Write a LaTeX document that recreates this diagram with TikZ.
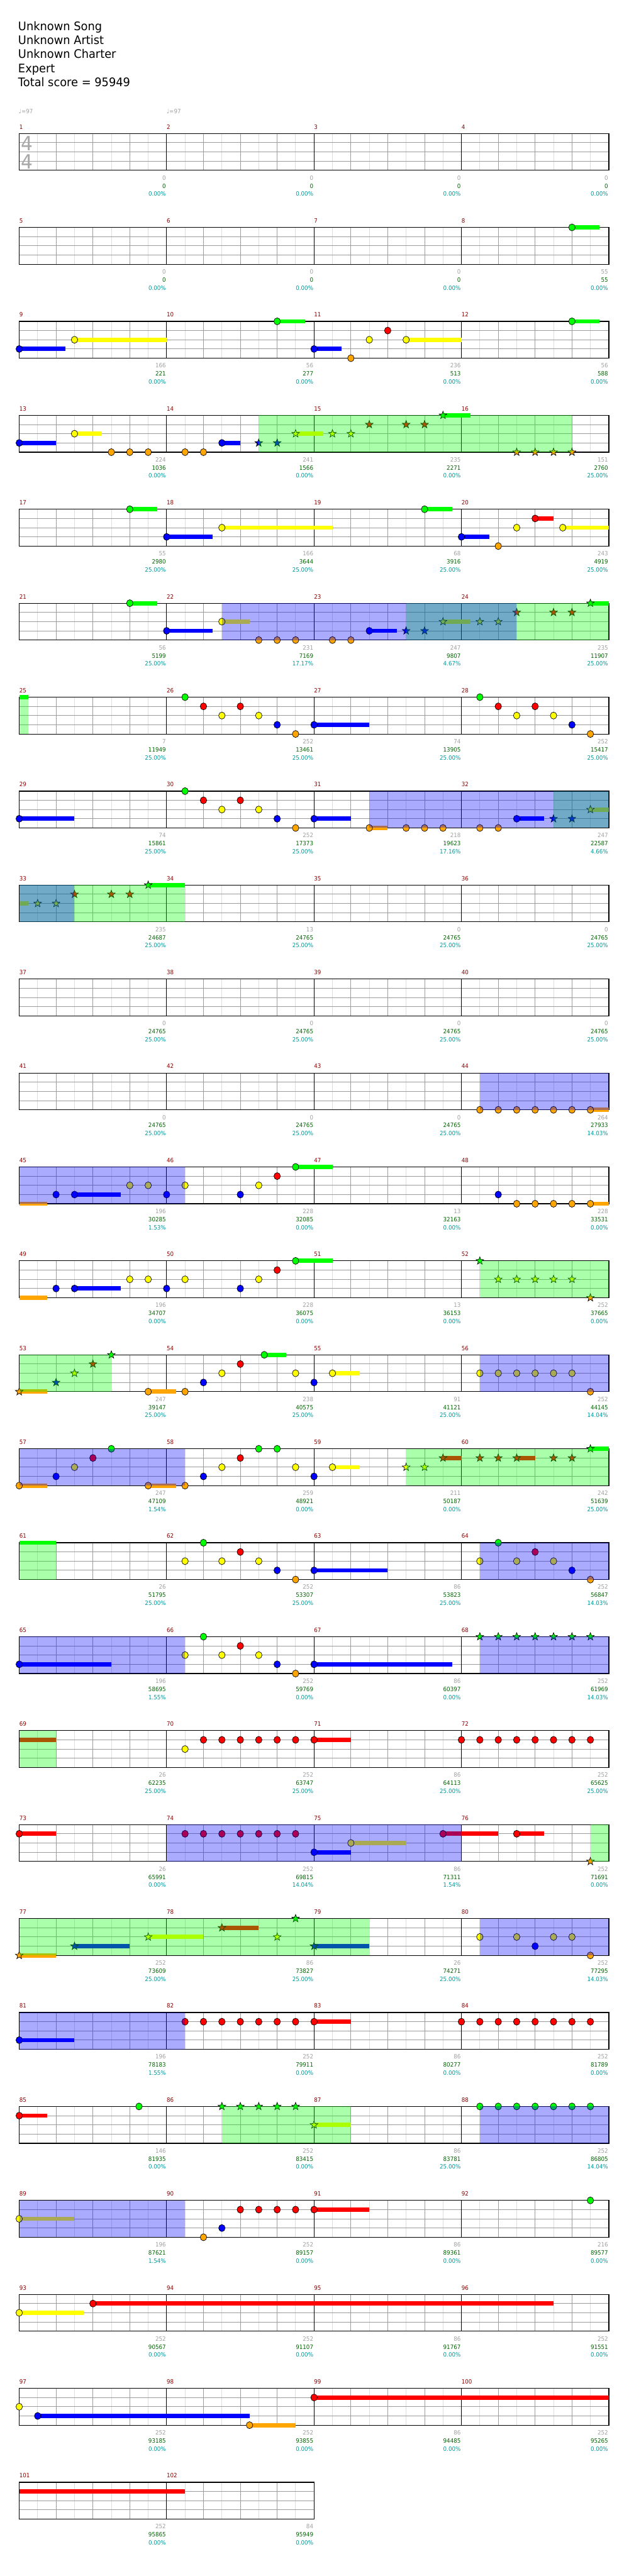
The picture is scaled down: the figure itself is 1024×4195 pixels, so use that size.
\documentclass[tikz,border=0pt]{standalone}
\usepackage{fontspec}
\setmainfont{DejaVu Sans}
\newfontfamily\cfam{DejaVu Sans}[FakeStretch=0.93]
\newfontfamily\hfam{DejaVu Sans}[FakeStretch=0.95]
\newcommand\smtxt{\cfam\fontsize{9.6}{11}\selectfont}
\newcommand\hdrtxt{\hfam\fontsize{19.2}{23}\selectfont}
\newcommand\tstxt{\hfam\fontsize{32}{34}\selectfont}
\definecolor{cG}{HTML}{00FF00}
\definecolor{cR}{HTML}{FF0000}
\definecolor{cY}{HTML}{FFFF00}
\definecolor{cB}{HTML}{0000FF}
\definecolor{cO}{HTML}{FFA500}
\definecolor{lnmid}{HTML}{9C9C9C}
\definecolor{lnlight}{HTML}{DCDCDC}
\definecolor{mnum}{HTML}{8B0000}
\definecolor{sgray}{HTML}{A0A0A0}
\definecolor{sgreen}{HTML}{006400}
\definecolor{steal}{HTML}{009A9A}
\definecolor{tsgray}{HTML}{A8A8A8}
\tikzset{
 lightln/.style={draw=lnlight,line width=1pt},
 midln/.style={draw=lnmid,line width=1pt},
 barln/.style={draw=black,line width=1pt},
 staffframe/.style={draw=black,line width=1.2pt},
 notehead/.style={draw=black,line width=0.7pt},
 mnumtxt/.style={anchor=base west,inner sep=0pt,text=mnum,font=\smtxt},
 stattxt/.style={anchor=base east,inner sep=0pt,font=\smtxt,xshift=-1pt},
 hdr/.style={anchor=base west,inner sep=0pt,font=\hdrtxt},
}
\def\laneG{0}\def\laneR{15}\def\laneY{30}\def\laneB{45}\def\laneO{60}
% note head
\newcommand\nh[2]{\filldraw[notehead,fill=c#1] (#2,\csname lane#1\endcsname) ellipse [x radius=5.3pt,y radius=5.7pt];}
% star note
\newcommand\ns[2]{\filldraw[notehead,fill=c#1,shift={(#2,\csname lane#1\endcsname)}] (90:6.6pt) -- (126:2.7pt) -- (162:6.6pt) -- (198:2.7pt) -- (234:6.6pt) -- (270:2.7pt) -- (306:6.6pt) -- (342:2.7pt) -- (18:6.6pt) -- (54:2.7pt) -- cycle;}
% sustain tail
\newcommand\nt[3]{\fill[c#1] (#2,\csname lane#1\endcsname-3.5) rectangle (#3,\csname lane#1\endcsname+3.5);}
% overlay (star power green / blue)
\newcommand\ovr[3]{\fill[c#1,opacity=0.3333] (#2,0) rectangle (#3,60);}
% measure stats
\newcommand\msr[4]{%
 \node[stattxt,text=sgray] at (4*#1+4,75.7) {#2};
 \node[stattxt,text=sgreen] at (4*#1+4,89) {#3};
 \node[stattxt,text=steal] at (4*#1+4,102) {#4\%};}
% a chart row: #1 row index, #2 number of measures, #3 first measure, #4 content
\newcommand\crow[4]{%
 \begin{scope}[shift={(31.3,217.3+153*#1)},x=60pt]
  \pgfmathtruncatemacro\NB{4*#2}
  \pgfmathtruncatemacro\NM{#2-1}
  \foreach \i in {1,...,\NB} {\draw[lightln] (\i-0.5,0) -- (\i-0.5,60);}
  \foreach \yy in {15,30,45} {\draw[midln] (0,\yy) -- (\NB,\yy);}
  \foreach \i in {1,...,\NB} {\pgfmathtruncatemacro\md{mod(\i,4)}%
    \ifnum\md=0 \draw[barln] (\i,0) -- (\i,60);\else\draw[midln] (\i,0) -- (\i,60);\fi}
  \draw[staffframe] (0,0) rectangle (\NB,60);
  \foreach \c [evaluate=\c as \m using int(#3+\c)] in {0,...,\NM} {\node[mnumtxt] at (4*\c,-7.3) {\m};}
  #4
 \end{scope}}

\begin{document}
\begin{tikzpicture}[x=1pt,y=-1pt]
\useasboundingbox (0,0) rectangle (1024,4195);
\fill[white] (0,0) rectangle (1024,4195);
\node[hdr] (title) at (29.5,49.3) {Unknown Song};
\node[hdr] (artist) at (29.5,71.7) {Unknown Artist};
\node[hdr] (charter) at (29.5,95) {Unknown Charter};
\node[hdr] (diff) at (29.5,118.3) {Expert};
\node[hdr] (score) at (29.5,140.7) {Total score = 95949};
\node[anchor=base west,inner sep=0pt,text=sgray,font=\smtxt] (tempoA) at (30.5,184.5) {♩=97};
\node[anchor=base west,inner sep=0pt,text=sgray,font=\smtxt] (tempoB) at (271.3,184.5) {♩=97};

\crow{0}{4}{1}{\msr{0}{0}{0}{0.00}\msr{1}{0}{0}{0.00}\msr{2}{0}{0}{0.00}\msr{3}{0}{0}{0.00}}
\node[inner sep=0pt,text=tsgray,font=\tstxt] (tsA) at (43.8,233.3) {4};
\node[inner sep=0pt,text=tsgray,font=\tstxt] (tsB) at (43.8,263.3) {4};

\crow{1}{4}{5}{\nt{G}{15}{15.75}\nh{G}{15}
 \msr{0}{0}{0}{0.00}\msr{1}{0}{0}{0.00}\msr{2}{0}{0}{0.00}\msr{3}{55}{55}{0.00}}

\crow{2}{4}{9}{\nt{B}{0}{1.25}\nh{B}{0}\nt{Y}{1.5}{4}\nh{Y}{1.5}
 \nt{G}{7}{7.75}\nh{G}{7}\nt{B}{8}{8.75}\nh{B}{8}\nh{O}{9}\nh{Y}{9.5}\nh{R}{10}
 \nt{Y}{10.5}{12}\nh{Y}{10.5}\nt{G}{15}{15.75}\nh{G}{15}
 \msr{0}{166}{221}{0.00}\msr{1}{56}{277}{0.00}\msr{2}{236}{513}{0.00}\msr{3}{56}{588}{0.00}}

\crow{3}{4}{13}{\nt{B}{0}{1}\nh{B}{0}\nt{Y}{1.5}{2.25}\nh{Y}{1.5}
 \nh{O}{2.5}\nh{O}{3}\nh{O}{3.5}\nh{O}{4.5}\nh{O}{5}\nt{B}{5.5}{6}\nh{B}{5.5}
 \ns{B}{6.5}\ns{B}{7}\nt{Y}{7.5}{8.25}\ns{Y}{7.5}\ns{Y}{8.5}\ns{Y}{9}
 \ns{R}{9.5}\ns{R}{10.5}\ns{R}{11}\nt{G}{11.5}{12.25}\ns{G}{11.5}
 \ns{O}{13.5}\ns{O}{14}\ns{O}{14.5}\ns{O}{15}
 \ovr{G}{6.5}{15}
 \msr{0}{224}{1036}{0.00}\msr{1}{241}{1566}{0.00}\msr{2}{235}{2271}{0.00}\msr{3}{151}{2760}{25.00}}

\crow{4}{4}{17}{\nt{G}{3}{3.75}\nh{G}{3}\nt{B}{4}{5.25}\nh{B}{4}\nt{Y}{5.5}{8.5}\nh{Y}{5.5}
 \nt{G}{11}{11.75}\nh{G}{11}\nt{B}{12}{12.75}\nh{B}{12}\nh{O}{13}\nh{Y}{13.5}
 \nt{R}{14}{14.5}\nh{R}{14}\nt{Y}{14.75}{16}\nh{Y}{14.75}
 \msr{0}{55}{2980}{25.00}\msr{1}{166}{3644}{25.00}\msr{2}{68}{3916}{25.00}\msr{3}{243}{4919}{25.00}}

\crow{5}{4}{21}{\nt{G}{3}{3.75}\nh{G}{3}\nt{B}{4}{5.25}\nh{B}{4}\nt{Y}{5.5}{6.25}\nh{Y}{5.5}
 \nh{O}{6.5}\nh{O}{7}\nh{O}{7.5}\nh{O}{8.5}\nh{O}{9}\nt{B}{9.5}{10.25}\nh{B}{9.5}
 \ns{B}{10.5}\ns{B}{11}\nt{Y}{11.5}{12.25}\ns{Y}{11.5}\ns{Y}{12.5}\ns{Y}{13}
 \ns{R}{13.5}\ns{R}{14.5}\ns{R}{15}\nt{G}{15.5}{16}\ns{G}{15.5}
 \ovr{G}{10.5}{16}\ovr{B}{5.5}{13.5}
 \msr{0}{56}{5199}{25.00}\msr{1}{231}{7169}{17.17}\msr{2}{247}{9807}{4.67}\msr{3}{235}{11907}{25.00}}

\crow{6}{4}{25}{\nt{G}{0}{0.25}
 \nh{G}{4.5}\nh{R}{5}\nh{Y}{5.5}\nh{R}{6}\nh{Y}{6.5}\nh{B}{7}\nh{O}{7.5}
 \nt{B}{8}{9.5}\nh{B}{8}
 \nh{G}{12.5}\nh{R}{13}\nh{Y}{13.5}\nh{R}{14}\nh{Y}{14.5}\nh{B}{15}\nh{O}{15.5}
 \ovr{G}{0}{0.25}
 \msr{0}{7}{11949}{25.00}\msr{1}{252}{13461}{25.00}\msr{2}{74}{13905}{25.00}\msr{3}{252}{15417}{25.00}}

\crow{7}{4}{29}{\nt{B}{0}{1.5}\nh{B}{0}
 \nh{G}{4.5}\nh{R}{5}\nh{Y}{5.5}\nh{R}{6}\nh{Y}{6.5}\nh{B}{7}\nh{O}{7.5}
 \nt{B}{8}{9}\nh{B}{8}\nt{O}{9.5}{10}\nh{O}{9.5}
 \nh{O}{10.5}\nh{O}{11}\nh{O}{11.5}\nh{O}{12.5}\nh{O}{13}
 \nt{B}{13.5}{14.25}\nh{B}{13.5}\ns{B}{14.5}\ns{B}{15}\nt{Y}{15.5}{16}\ns{Y}{15.5}
 \ovr{G}{14.5}{16}\ovr{B}{9.5}{16}
 \msr{0}{74}{15861}{25.00}\msr{1}{252}{17373}{25.00}\msr{2}{218}{19623}{17.16}\msr{3}{247}{22587}{4.66}}

\crow{8}{4}{33}{\nt{Y}{0}{0.25}\ns{Y}{0.5}\ns{Y}{1}
 \ns{R}{1.5}\ns{R}{2.5}\ns{R}{3}\nt{G}{3.5}{4.5}\ns{G}{3.5}
 \ovr{G}{0}{4.5}\ovr{B}{0}{1.5}
 \msr{0}{235}{24687}{25.00}\msr{1}{13}{24765}{25.00}\msr{2}{0}{24765}{25.00}\msr{3}{0}{24765}{25.00}}

\crow{9}{4}{37}{\msr{0}{0}{24765}{25.00}\msr{1}{0}{24765}{25.00}\msr{2}{0}{24765}{25.00}\msr{3}{0}{24765}{25.00}}

\crow{10}{4}{41}{\nh{O}{12.5}\nh{O}{13}\nh{O}{13.5}\nh{O}{14}\nh{O}{14.5}\nh{O}{15}
 \nt{O}{15.5}{16}\nh{O}{15.5}
 \ovr{B}{12.5}{16}
 \msr{0}{0}{24765}{25.00}\msr{1}{0}{24765}{25.00}\msr{2}{0}{24765}{25.00}\msr{3}{264}{27933}{14.03}}

\crow{11}{4}{45}{\nt{O}{0}{0.75}\nh{B}{1}\nt{B}{1.5}{2.75}\nh{B}{1.5}
 \nh{Y}{3}\nh{Y}{3.5}\nh{B}{4}\nh{Y}{4.5}\nh{B}{6}\nh{Y}{6.5}\nh{R}{7}
 \nt{G}{7.5}{8.5}\nh{G}{7.5}\nh{B}{13}
 \nh{O}{13.5}\nh{O}{14}\nh{O}{14.5}\nh{O}{15}\nt{O}{15.5}{16}\nh{O}{15.5}
 \ovr{B}{0}{4.5}
 \msr{0}{196}{30285}{1.53}\msr{1}{228}{32085}{0.00}\msr{2}{13}{32163}{0.00}\msr{3}{228}{33531}{0.00}}

\crow{12}{4}{49}{\nt{O}{0}{0.75}\nh{B}{1}\nt{B}{1.5}{2.75}\nh{B}{1.5}
 \nh{Y}{3}\nh{Y}{3.5}\nh{B}{4}\nh{Y}{4.5}\nh{B}{6}\nh{Y}{6.5}\nh{R}{7}
 \nt{G}{7.5}{8.5}\nh{G}{7.5}
 \ns{G}{12.5}\ns{Y}{13}\ns{Y}{13.5}\ns{Y}{14}\ns{Y}{14.5}\ns{Y}{15}\ns{O}{15.5}
 \ovr{G}{12.5}{16}
 \msr{0}{196}{34707}{0.00}\msr{1}{228}{36075}{0.00}\msr{2}{13}{36153}{0.00}\msr{3}{252}{37665}{0.00}}

\crow{13}{4}{53}{\nt{O}{0}{0.75}\ns{O}{0}\ns{B}{1}\ns{Y}{1.5}\ns{R}{2}\ns{G}{2.5}
 \nt{O}{3.5}{4.25}\nh{O}{3.5}\nh{O}{4.5}\nh{B}{5}\nh{Y}{5.5}\nh{R}{6}
 \nt{G}{6.65}{7.25}\nh{G}{6.65}\nh{Y}{7.5}\nh{B}{8}\nt{Y}{8.5}{9.25}\nh{Y}{8.5}
 \nh{Y}{12.5}\nh{Y}{13}\nh{Y}{13.5}\nh{Y}{14}\nh{Y}{14.5}\nh{Y}{15}\nh{O}{15.5}
 \ovr{G}{0}{2.5}\ovr{B}{12.5}{16}
 \msr{0}{247}{39147}{25.00}\msr{1}{238}{40575}{25.00}\msr{2}{91}{41121}{25.00}\msr{3}{252}{44145}{14.04}}

\crow{14}{4}{57}{\nt{O}{0}{0.75}\nh{O}{0}\nh{B}{1}\nh{Y}{1.5}\nh{R}{2}\nh{G}{2.5}
 \nt{O}{3.5}{4.25}\nh{O}{3.5}\nh{O}{4.5}\nh{B}{5}\nh{Y}{5.5}\nh{R}{6}\nh{G}{6.5}\nh{G}{7}
 \nh{Y}{7.5}\nh{B}{8}\nt{Y}{8.5}{9.25}\nh{Y}{8.5}
 \ns{Y}{10.5}\ns{Y}{11}\nt{R}{11.5}{12}\ns{R}{11.5}\ns{R}{12.5}\ns{R}{13}
 \nt{R}{13.5}{14}\ns{R}{13.5}\ns{R}{14.5}\ns{R}{15}\nt{G}{15.5}{16}\ns{G}{15.5}
 \ovr{G}{10.5}{16}\ovr{B}{0}{4.5}
 \msr{0}{247}{47109}{1.54}\msr{1}{259}{48921}{0.00}\msr{2}{211}{50187}{0.00}\msr{3}{242}{51639}{25.00}}

\crow{15}{4}{61}{\nt{G}{0}{1}
 \nh{Y}{4.5}\nh{G}{5}\nh{Y}{5.5}\nh{R}{6}\nh{Y}{6.5}\nh{B}{7}\nh{O}{7.5}
 \nt{B}{8}{10}\nh{B}{8}
 \nh{Y}{12.5}\nh{G}{13}\nh{Y}{13.5}\nh{R}{14}\nh{Y}{14.5}\nh{B}{15}\nh{O}{15.5}
 \ovr{G}{0}{1}\ovr{B}{12.5}{16}
 \msr{0}{26}{51795}{25.00}\msr{1}{252}{53307}{25.00}\msr{2}{86}{53823}{25.00}\msr{3}{252}{56847}{14.03}}

\crow{16}{4}{65}{\nt{B}{0}{2.5}\nh{B}{0}
 \nh{Y}{4.5}\nh{G}{5}\nh{Y}{5.5}\nh{R}{6}\nh{Y}{6.5}\nh{B}{7}\nh{O}{7.5}
 \nt{B}{8}{11.75}\nh{B}{8}
 \ns{G}{12.5}\ns{G}{13}\ns{G}{13.5}\ns{G}{14}\ns{G}{14.5}\ns{G}{15}\ns{G}{15.5}
 \ovr{B}{0}{4.5}\ovr{B}{12.5}{16}
 \msr{0}{196}{58695}{1.55}\msr{1}{252}{59769}{0.00}\msr{2}{86}{60397}{0.00}\msr{3}{252}{61969}{14.03}}

\crow{17}{4}{69}{\nt{R}{0}{1}
 \nh{Y}{4.5}\nh{R}{5}\nh{R}{5.5}\nh{R}{6}\nh{R}{6.5}\nh{R}{7}\nh{R}{7.5}
 \nt{R}{8}{9}\nh{R}{8}
 \nh{R}{12}\nh{R}{12.5}\nh{R}{13}\nh{R}{13.5}\nh{R}{14}\nh{R}{14.5}\nh{R}{15}\nh{R}{15.5}
 \ovr{G}{0}{1}
 \msr{0}{26}{62235}{25.00}\msr{1}{252}{63747}{25.00}\msr{2}{86}{64113}{25.00}\msr{3}{252}{65625}{25.00}}

\crow{18}{4}{73}{\nt{R}{0}{1}\nh{R}{0}
 \nh{R}{4.5}\nh{R}{5}\nh{R}{5.5}\nh{R}{6}\nh{R}{6.5}\nh{R}{7}\nh{R}{7.5}
 \nt{B}{8}{9}\nh{B}{8}\nt{Y}{9}{10.5}\nh{Y}{9}
 \nt{R}{11.5}{13}\nh{R}{11.5}\nt{R}{13.5}{14.25}\nh{R}{13.5}
 \ns{O}{15.5}
 \ovr{G}{15.5}{16}\ovr{B}{4}{12}
 \msr{0}{26}{65991}{0.00}\msr{1}{252}{69815}{14.04}\msr{2}{86}{71311}{1.54}\msr{3}{252}{71691}{0.00}}

\crow{19}{4}{77}{\nt{O}{0}{1}\ns{O}{0}\nt{B}{1.5}{3}\ns{B}{1.5}\nt{Y}{3.5}{5}\ns{Y}{3.5}
 \nt{R}{5.5}{6.5}\ns{R}{5.5}\ns{Y}{7}\ns{G}{7.5}\nt{B}{8}{9.5}\ns{B}{8}
 \nh{Y}{12.5}\nh{Y}{13.5}\nh{B}{14}\nh{Y}{14.5}\nh{Y}{15}\nh{O}{15.5}
 \ovr{G}{0}{9.5}\ovr{B}{12.5}{16}
 \msr{0}{252}{73609}{25.00}\msr{1}{86}{73827}{25.00}\msr{2}{26}{74271}{25.00}\msr{3}{252}{77295}{14.03}}

\crow{20}{4}{81}{\nt{B}{0}{1.5}\nh{B}{0}
 \nh{R}{4.5}\nh{R}{5}\nh{R}{5.5}\nh{R}{6}\nh{R}{6.5}\nh{R}{7}\nh{R}{7.5}
 \nt{R}{8}{9}\nh{R}{8}
 \nh{R}{12}\nh{R}{12.5}\nh{R}{13}\nh{R}{13.5}\nh{R}{14}\nh{R}{14.5}\nh{R}{15}\nh{R}{15.5}
 \ovr{B}{0}{4.5}
 \msr{0}{196}{78183}{1.55}\msr{1}{252}{79911}{0.00}\msr{2}{86}{80277}{0.00}\msr{3}{252}{81789}{0.00}}

\crow{21}{4}{85}{\nt{R}{0}{0.75}\nh{R}{0}\nh{G}{3.25}
 \ns{G}{5.5}\ns{G}{6}\ns{G}{6.5}\ns{G}{7}\ns{G}{7.5}\nt{Y}{8}{9}\ns{Y}{8}
 \nh{G}{12.5}\nh{G}{13}\nh{G}{13.5}\nh{G}{14}\nh{G}{14.5}\nh{G}{15}\nh{G}{15.5}
 \ovr{G}{5.5}{9}\ovr{B}{12.5}{16}
 \msr{0}{146}{81935}{0.00}\msr{1}{252}{83415}{0.00}\msr{2}{86}{83781}{25.00}\msr{3}{252}{86805}{14.04}}

\crow{22}{4}{89}{\nt{Y}{0}{1.5}\nh{Y}{0}
 \nh{O}{5}\nh{B}{5.5}\nh{R}{6}\nh{R}{6.5}\nh{R}{7}\nh{R}{7.5}
 \nt{R}{8}{9.5}\nh{R}{8}\nh{G}{15.5}
 \ovr{B}{0}{4.5}
 \msr{0}{196}{87621}{1.54}\msr{1}{252}{89157}{0.00}\msr{2}{86}{89361}{0.00}\msr{3}{216}{89577}{0.00}}

\crow{23}{4}{93}{\nt{Y}{0}{1.75}\nh{Y}{0}
 \nt{R}{2}{14.5}\nh{R}{2}
 \msr{0}{252}{90567}{0.00}\msr{1}{252}{91107}{0.00}\msr{2}{86}{91767}{0.00}\msr{3}{252}{91551}{0.00}}

\crow{24}{4}{97}{\nh{Y}{0}\nt{B}{0.5}{6.25}\nh{B}{0.5}\nt{O}{6.25}{7.5}\nh{O}{6.25}
 \nt{R}{8}{16}\nh{R}{8}
 \msr{0}{252}{93185}{0.00}\msr{1}{252}{93855}{0.00}\msr{2}{86}{94485}{0.00}\msr{3}{252}{95265}{0.00}}

\crow{25}{2}{101}{\nt{R}{0}{4.5}
 \msr{0}{252}{95865}{0.00}\msr{1}{84}{95949}{0.00}}
\end{tikzpicture}
\end{document}
